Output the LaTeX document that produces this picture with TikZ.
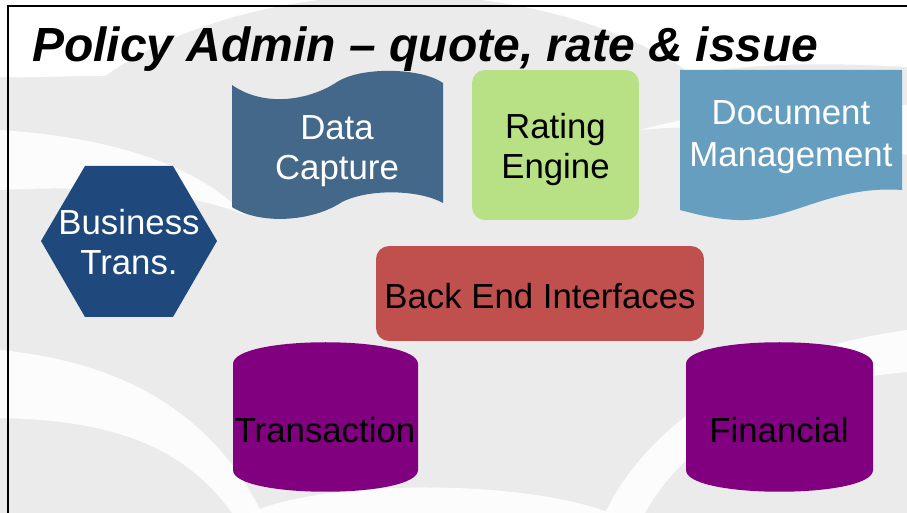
\documentclass[tikz,border=0pt]{standalone}
\usepackage{fontspec}
\setmainfont{Liberation Sans}

\definecolor{swirlgray}{RGB}{235,235,235}
\definecolor{capblue}{RGB}{67,104,137}
\definecolor{rategreen}{RGB}{184,225,134}
\definecolor{docblue}{RGB}{101,158,191}
\definecolor{transblue}{RGB}{31,73,125}
\definecolor{backred}{RGB}{192,80,77}
\definecolor{dbpurple}{RGB}{128,0,128}

\begin{document}
\begin{tikzpicture}[
    x=0.02cm, y=-0.02cm,
    swirl/.style={fill=swirlgray},
    gap/.style={fill=white, opacity=0.85},
    boxtext/.style={align=center, inner sep=0pt, font=\fontsize{19.8}{23}\selectfont},
    panel/.style={rectangle, rounded corners=0.26cm},
    drum/.style={fill=dbpurple}
]
\clip (0,0) rectangle (907,513);

% background swirls
\fill[swirl] (0,0) rectangle (907,513);
\fill[white] (0,0) -- (907,0) -- (907,67) .. controls (820,62) and (760,64) .. (700,72)
    -- (100,76) .. controls (60,76) and (30,78) .. (0,77) -- cycle;
\fill[swirl] (400,215) ellipse [x radius=380, y radius=220];
\fill[gap] (0,130) .. controls (120,138) and (200,168) .. (245,215)
    .. controls (190,192) and (100,185) .. (0,190) -- cycle;
\fill[gap] (0,350) .. controls (120,362) and (210,410) .. (262,513) -- (232,513)
    .. controls (180,440) and (100,420) .. (0,418) -- cycle;
\fill[gap] (907,105) .. controls (820,100) and (720,108) .. (640,130)
    .. controls (720,122) and (820,132) .. (907,155) -- cycle;
\fill[gap] (907,330) .. controls (760,350) and (650,420) .. (605,513) -- (645,513)
    .. controls (690,432) and (790,382) .. (907,372) -- cycle;
\fill[gap] (250,513) .. controls (320,480) and (520,478) .. (610,513) -- cycle;

% frame
\draw[line width=0.035cm] (8,513) -- (8,6) -- (907,6);

% title
\node[anchor=base west, inner sep=0pt, font=\fontsize{27.3}{32}\selectfont\bfseries\itshape]
    (title) at (32,62) {Policy Admin -- quote, rate \& issue};

% data capture (tape)
\fill[capblue] (232,85) .. controls (265,108) and (310,100) .. (337,82)
    .. controls (362,66) and (422,68) .. (443,83) -- (443,203)
    .. controls (420,190) and (370,188) .. (342,202)
    .. controls (312,222) and (260,225) .. (232,207) -- cycle;
\node[boxtext, text=white] (capture) at (337,151) {Data\\Capture};

% rating engine
\node[panel, fill=rategreen, minimum width=3.34cm, minimum height=3cm] (rating) at (555.5,145) {};
\node[boxtext] (ratingtext) at (rating.center) [yshift=-0.09cm] {Rating\\Engine};

% document management
\fill[docblue] (680,70) -- (902,70) -- (902,190)
    .. controls (830,185) and (790,222) .. (737,220)
    .. controls (712,219) and (692,213) .. (680,210) -- cycle;
\node[boxtext, text=white, font=\fontsize{19.8}{24}\selectfont] (docs) at (791,137) {Document\\Management};

% business transactions
\fill[transblue] (41,241) -- (85,166) -- (173,166) -- (217,241) -- (173,317) -- (85,317) -- cycle;
\node[boxtext, text=white] (business) at (129,242) {Business\\Trans.};

% back end
\node[panel, fill=backred, minimum width=6.56cm, minimum height=1.9cm] (backend) at (540,293.5) {};
\node[boxtext] (backendtext) at (540,296.5) {Back End Interfaces};

% databases
\fill[drum] (233,364) .. controls (233,335) and (418,335) .. (418,364) -- (418,470)
    .. controls (418,499) and (233,499) .. (233,470) -- cycle;
\node[boxtext] (transaction) at (325,430) {Transaction};

\fill[drum] (686,364) .. controls (686,335) and (873,335) .. (873,364) -- (873,470)
    .. controls (873,499) and (686,499) .. (686,470) -- cycle;
\node[boxtext] (financial) at (779,430) {Financial};

\end{tikzpicture}
\end{document}
